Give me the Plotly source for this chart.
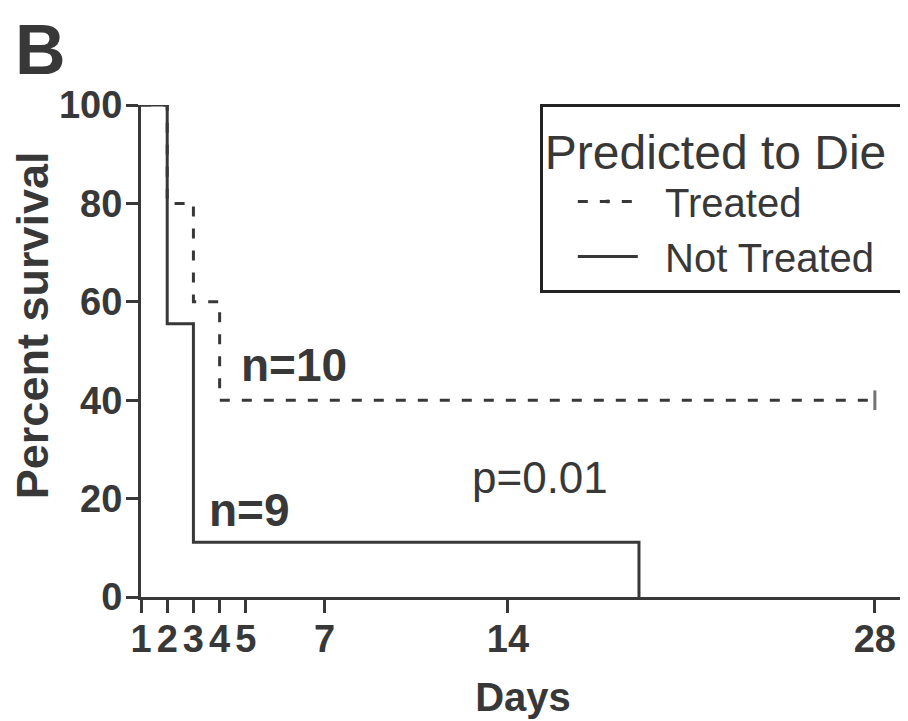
import plotly.graph_objects as go

# ---- data ----
treated_days = [0, 1, 2, 3, 28]
treated_surv = [100, 80, 60, 40, 40]
treated_censor_size = [0, 0, 0, 0, 14]

not_treated_days = [0, 1, 2, 19]
not_treated_surv = [100, 55.56, 11.11, 0]

tick_vals = [0, 1, 2, 3, 4, 7, 14, 28]
tick_text = ["1", "2", "3", "4", "5", "7", "14", "28"]
y_ticks = [0, 20, 40, 60, 80, 100]

INK = "#383838"
FONT = "Liberation Sans"
NB = "\u00a0"

fig = go.Figure()
fig.add_trace(go.Scatter(
    x=treated_days, y=treated_surv, name=NB * 2 + "Treated",
    mode="lines+markers", line=dict(shape="hv", color=INK, width=3, dash="10px,12px"),
    marker=dict(symbol="line-ns", size=treated_censor_size, line=dict(color=INK, width=3)),
    cliponaxis=False,
))
fig.add_trace(go.Scatter(
    x=not_treated_days, y=not_treated_surv, name=NB * 2 + "Not Treated",
    mode="lines", line=dict(shape="hv", color=INK, width=3),
    cliponaxis=False,
))

fig.add_annotation(x=3.74, y=47.2, text="n=10", showarrow=False, xanchor="left", yanchor="middle",
                   font=dict(family=FONT, size=46, color=INK, weight="bold"))
fig.add_annotation(x=2.52, y=17.6, text="n=9", showarrow=False, xanchor="left", yanchor="middle",
                   font=dict(family=FONT, size=46, color=INK, weight="bold"))
fig.add_annotation(x=12.55, y=24.3, text="p=0.01", showarrow=False, xanchor="left", yanchor="middle",
                   font=dict(family=FONT, size=44, color=INK))
fig.add_annotation(x=-0.1675, y=1.112, xref="paper", yref="paper", text="B", showarrow=False,
                   xanchor="left", yanchor="middle",
                   font=dict(family=FONT, size=70, color=INK, weight="bold"))
fig.add_annotation(x=-0.141, y=0.553, xref="paper", yref="paper", text="Percent survival",
                   showarrow=False, textangle=-90, xanchor="center", yanchor="middle",
                   font=dict(family=FONT, size=45, color=INK, weight="bold"))

# page has an 8px body margin: figure is offset by 8px, so size/margins compensate
fig.update_layout(
    width=900, height=716,
    margin=dict(l=133, r=3, t=97, b=127, autoexpand=False),
    paper_bgcolor="white", plot_bgcolor="white",
    font=dict(family=FONT, color=INK),
    showlegend=True,
    legend=dict(
        x=0.522, y=1.003, xanchor="left", yanchor="top",
        bgcolor="white", bordercolor="#222222", borderwidth=3,
        font=dict(family=FONT, size=40, color=INK),
        title=dict(text="Predicted to Die" + NB, font=dict(family=FONT, size=48, color=INK)),
        itemwidth=60, traceorder="normal", indentation=30,
    ),
    xaxis=dict(
        range=[0, 29.15], tickmode="array", tickvals=tick_vals, ticktext=tick_text,
        showgrid=False, zeroline=False, showline=True, linecolor=INK, linewidth=3,
        ticks="outside", ticklen=13, tickwidth=3, tickcolor=INK, ticklabelstandoff=-7,
        automargin=False,
        tickfont=dict(family=FONT, size=38, color=INK, weight="bold"),
        title=dict(text="Days", font=dict(family=FONT, size=40, color=INK, weight="bold"), standoff=25),
    ),
    yaxis=dict(
        range=[0, 100], tickmode="array", tickvals=y_ticks,
        showgrid=False, zeroline=False, showline=True, linecolor=INK, linewidth=3,
        ticks="outside", ticklen=12, tickwidth=3, tickcolor=INK, ticklabelstandoff=-4,
        automargin=False,
        tickfont=dict(family=FONT, size=38, color=INK, weight="bold"),
    ),
)

fig.write_html("out.html")
